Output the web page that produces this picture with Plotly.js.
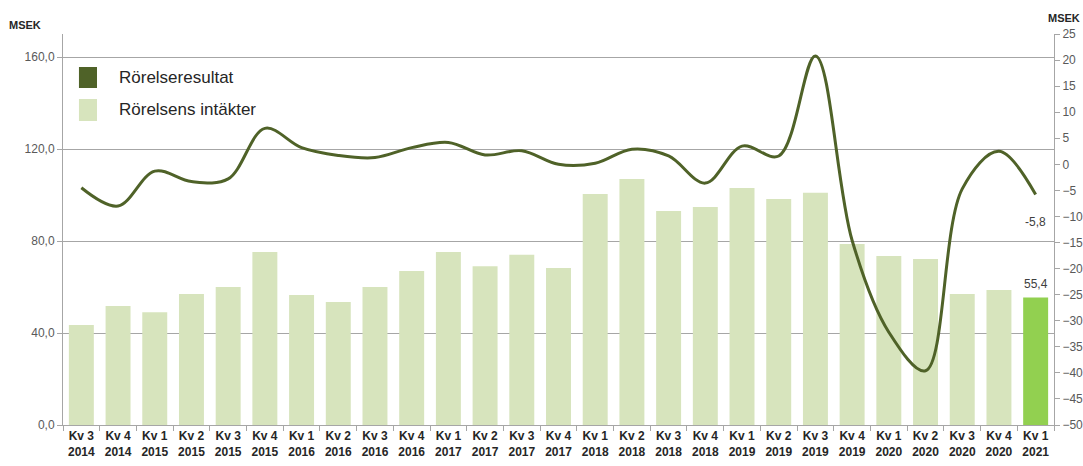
<!DOCTYPE html>
<html>
<head>
<meta charset="utf-8">
<script src="https://cdn.plot.ly/plotly-3.0.1.min.js"></script>
<style>html,body{margin:0;padding:0;background:#fff;}#chart{width:1083px;height:466px;}</style>
</head>
<body>
<div id="chart"></div>
<script>
const quarters = ["Kv 3","Kv 4","Kv 1","Kv 2","Kv 3","Kv 4","Kv 1","Kv 2","Kv 3","Kv 4","Kv 1","Kv 2","Kv 3","Kv 4","Kv 1","Kv 2","Kv 3","Kv 4","Kv 1","Kv 2","Kv 3","Kv 4","Kv 1","Kv 2","Kv 3","Kv 4","Kv 1"];
const years = ["2014","2014","2015","2015","2015","2015","2016","2016","2016","2016","2017","2017","2017","2017","2018","2018","2018","2018","2019","2019","2019","2019","2020","2020","2020","2020","2021"];
const categories = quarters.map((q, i) => q + "<br>" + years[i]);

// Rörelsens intäkter (MSEK, left axis)
const revenue = [43.5, 51.7, 49.0, 57.0, 60.0, 75.2, 56.5, 53.5, 60.0, 67.0, 75.2, 69.0, 74.0, 68.3, 100.4, 107.0, 93.0, 94.8, 103.0, 98.3, 101.0, 78.7, 73.5, 72.2, 57.0, 58.7, 55.4];
// Rörelseresultat (MSEK, right axis)
const result = [-4.5, -8.0, -1.3, -3.3, -2.8, 6.9, 3.2, 1.7, 1.3, 3.2, 4.2, 1.8, 2.6, 0.0, 0.2, 2.9, 1.6, -3.6, 3.5, 1.6, 20.8, -14.6, -32.2, -39.6, -4.7, 2.5, -5.8];

const leftTicks = [0, 40, 80, 120, 160];
const rightTicks = [-50,-45,-40,-35,-30,-25,-20,-15,-10,-5,0,5,10,15,20,25];

const colLine = "#4f6228";
const colBar = "#d7e4bd";
const colLast = "#92d050";
const fmt = v => v.toFixed(1).replace(".", ",");
const last = categories.length - 1;

const barColors = revenue.map((v, i) => i === last ? colLast : colBar);

const traces = [
  {
    type: "bar", x: categories, y: revenue, name: "Rörelsens intäkter",
    marker: {color: barColors}, yaxis: "y", hoverinfo: "skip", showlegend: false
  },
  {
    type: "scatter", mode: "lines", x: categories, y: result, name: "Rörelseresultat",
    line: {color: colLine, width: 3, shape: "spline", smoothing: 1.0},
    yaxis: "y2", hoverinfo: "skip", showlegend: false
  }
];

const font = "Liberation Sans, Arial, sans-serif";
const tickCol = "#595959";
const axisCol = "#a6a6a6";

const layout = {
  width: 1083, height: 466,
  margin: {l: 63, r: 29, t: 34, b: 41},
  paper_bgcolor: "#fff", plot_bgcolor: "#fff",
  separators: ", ",
  bargap: 0.32,
  showlegend: false,
  font: {family: font, color: tickCol},
  xaxis: {
    type: "category", tickson: "boundaries", ticks: "outside", ticklen: 5,
    tickcolor: axisCol, showline: true, linecolor: axisCol, linewidth: 1,
    showgrid: false, zeroline: false,
    tickfont: {family: font, size: 12, color: "#262626", weight: "bold"}
  },
  yaxis: {
    range: [0, 170], tickvals: leftTicks, tickformat: ".1f",
    showgrid: true, gridcolor: "#a6a6a6", gridwidth: 1,
    showline: true, linecolor: axisCol, ticks: "outside", ticklen: 5, tickcolor: axisCol,
    zeroline: false, tickfont: {family: font, size: 12, color: tickCol}
  },
  yaxis2: {
    overlaying: "y", side: "right", range: [-50, 25], tickvals: rightTicks,
    showgrid: false, zeroline: false, showline: true, linecolor: axisCol,
    ticks: "outside", ticklen: 5, tickcolor: axisCol,
    tickfont: {family: font, size: 12, color: tickCol}
  },
  shapes: [
    {type: "rect", xref: "paper", yref: "paper", x0: 0.0161, x1: 0.0343, y0: 0.8619, y1: 0.9156, fillcolor: colLine, line: {width: 0}},
    {type: "rect", xref: "paper", yref: "paper", x0: 0.0161, x1: 0.0343, y0: 0.7775, y1: 0.8338, fillcolor: colBar, line: {width: 0}}
  ],
  annotations: [
    {xref: "paper", yref: "paper", x: 0.0545, y: 0.888, xanchor: "left", yanchor: "middle", showarrow: false,
     text: "Rörelseresultat", font: {family: font, size: 17, color: "#262626"}},
    {xref: "paper", yref: "paper", x: 0.0545, y: 0.808, xanchor: "left", yanchor: "middle", showarrow: false,
     text: "Rörelsens intäkter", font: {family: font, size: 17, color: "#262626"}},
    {xref: "paper", yref: "paper", x: 0, y: 1, xshift: -38, yshift: 9, xanchor: "center", yanchor: "middle", showarrow: false,
     text: "MSEK", font: {family: font, size: 11, color: "#262626", weight: "bold"}},
    {xref: "paper", yref: "paper", x: 1, y: 1, xshift: 10, yshift: 16, xanchor: "center", yanchor: "middle", showarrow: false,
     text: "MSEK", font: {family: font, size: 11, color: "#262626", weight: "bold"}},
    {xref: "x", yref: "y", x: categories[last], y: revenue[last], yshift: 14, showarrow: false,
     text: fmt(revenue[last]), font: {family: font, size: 12, color: "#404040"}},
    {xref: "x", yref: "y2", x: categories[last], y: result[last], yshift: -27, showarrow: false,
     text: fmt(result[last]), font: {family: font, size: 12, color: "#404040"}}
  ]
};

Plotly.newPlot("chart", traces, layout, {displayModeBar: false, staticPlot: true});
</script>
</body>
</html>
